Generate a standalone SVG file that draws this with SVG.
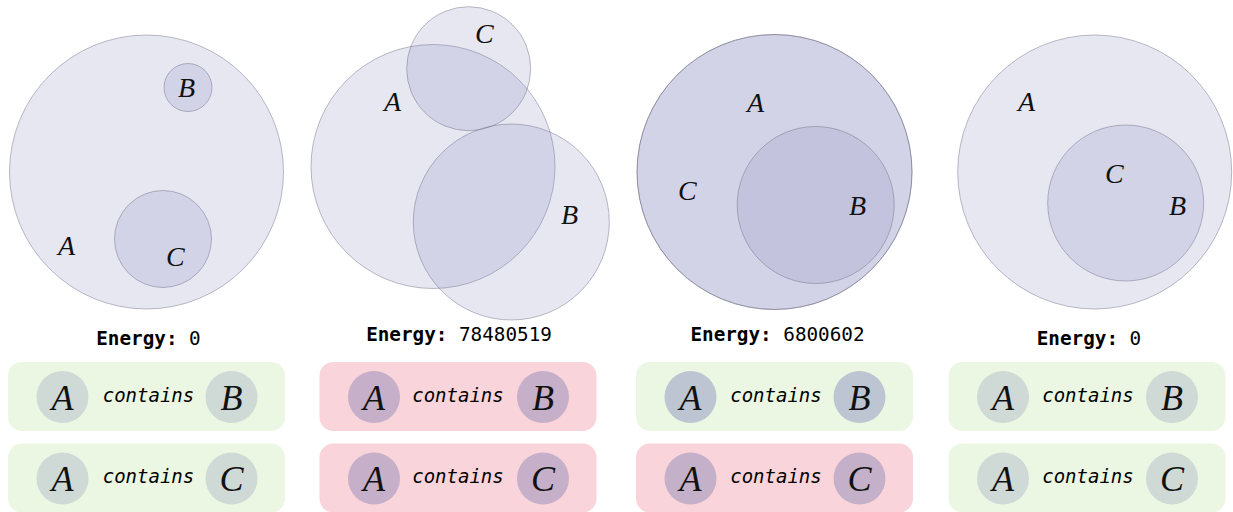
<svg xmlns="http://www.w3.org/2000/svg" width="1233" height="512" viewBox="0 0 1233 512">
<style>
.sh{fill:#8787be;fill-opacity:0.2;stroke:#6a6a80;stroke-opacity:0.45;stroke-width:1}
.lbl{font-family:"Liberation Serif",serif;font-style:italic;font-size:28px;fill:#111}
.big{font-family:"Liberation Serif",serif;font-style:italic;font-size:36px;fill:#111;text-anchor:middle}
.en{font-family:"DejaVu Sans Mono",monospace;font-size:19.3px;fill:#000;text-anchor:middle}
.enb{font-weight:bold}
.con{font-family:"DejaVu Sans Mono",monospace;font-style:italic;font-size:19px;fill:#000;text-anchor:middle}
.ok{fill:#ebf7e3}
.bad{fill:#f9d4da}
.cok{fill:#cfd9d6}
.cbad{fill:#c6afc8}
.cok3{fill:#bdc5d3}
.cbad3{fill:#c4b0c8}
</style>
<g id="panel1">
<circle class="sh" cx="146.5" cy="172" r="137"/>
<circle class="sh" cx="188" cy="87.5" r="24"/>
<circle class="sh" cx="163" cy="239" r="48.5"/>
<text class="lbl" x="58" y="255">A</text>
<text class="lbl" x="178" y="97">B</text>
<text class="lbl" x="166" y="266">C</text>
<text class="en" x="148.5" y="345"><tspan class="enb">Energy:</tspan> 0</text>
</g>
<g id="panel2">
<circle class="sh" cx="433" cy="166.5" r="122"/>
<circle class="sh" cx="468.7" cy="68.7" r="62"/>
<circle class="sh" cx="511.3" cy="222" r="98"/>
<text class="lbl" x="384" y="111">A</text>
<text class="lbl" x="561" y="224">B</text>
<text class="lbl" x="475" y="43">C</text>
<text class="en" x="459" y="341"><tspan class="enb">Energy:</tspan> 78480519</text>
</g>
<g id="panel3">
<circle class="sh" cx="774.5" cy="172" r="137.5"/>
<circle class="sh" cx="774.5" cy="172" r="137.5"/>
<circle class="sh" cx="815.7" cy="205" r="78.5"/>
<text class="lbl" x="747" y="112">A</text>
<text class="lbl" x="849" y="215">B</text>
<text class="lbl" x="678" y="200">C</text>
<text class="en" x="777.5" y="341"><tspan class="enb">Energy:</tspan> 6800602</text>
</g>
<g id="panel4">
<circle class="sh" cx="1094.7" cy="172" r="137"/>
<circle class="sh" cx="1125.7" cy="203" r="78"/>
<text class="lbl" x="1018" y="111">A</text>
<text class="lbl" x="1169" y="215">B</text>
<text class="lbl" x="1105" y="183">C</text>
<text class="en" x="1089" y="345"><tspan class="enb">Energy:</tspan> 0</text>
</g>
<g id="constraints1">
<rect class="ok" x="8" y="362" width="277" height="69" rx="14"/>
<circle class="cok" cx="62.5" cy="397" r="26"/>
<circle class="cok" cx="231.5" cy="397" r="26"/>
<text class="big" x="62.5" y="409.5">A</text>
<text class="con" x="148.5" y="401.5">contains</text>
<text class="big" x="231.5" y="409.5">B</text>
<rect class="ok" x="8" y="443.5" width="277" height="69" rx="14"/>
<circle class="cok" cx="62.5" cy="478.5" r="26"/>
<circle class="cok" cx="231.5" cy="478.5" r="26"/>
<text class="big" x="62.5" y="491">A</text>
<text class="con" x="148.5" y="483">contains</text>
<text class="big" x="231.5" y="491">C</text>
</g>
<g id="constraints2">
<rect class="bad" x="319.5" y="362" width="277" height="69" rx="14"/>
<circle class="cbad" cx="374" cy="397" r="26"/>
<circle class="cbad" cx="543" cy="397" r="26"/>
<text class="big" x="374" y="409.5">A</text>
<text class="con" x="458" y="401.5">contains</text>
<text class="big" x="543" y="409.5">B</text>
<rect class="bad" x="319.5" y="443.5" width="277" height="69" rx="14"/>
<circle class="cbad" cx="374" cy="478.5" r="26"/>
<circle class="cbad" cx="543" cy="478.5" r="26"/>
<text class="big" x="374" y="491">A</text>
<text class="con" x="458" y="483">contains</text>
<text class="big" x="543" y="491">C</text>
</g>
<g id="constraints3">
<rect class="ok" x="636" y="362" width="277" height="69" rx="14"/>
<circle class="cok3" cx="690.5" cy="397" r="26"/>
<circle class="cok3" cx="859.5" cy="397" r="26"/>
<text class="big" x="690.5" y="409.5">A</text>
<text class="con" x="776" y="401.5">contains</text>
<text class="big" x="859.5" y="409.5">B</text>
<rect class="bad" x="636" y="443.5" width="277" height="69" rx="14"/>
<circle class="cbad3" cx="690.5" cy="478.5" r="26"/>
<circle class="cbad3" cx="859.5" cy="478.5" r="26"/>
<text class="big" x="690.5" y="491">A</text>
<text class="con" x="776" y="483">contains</text>
<text class="big" x="859.5" y="491">C</text>
</g>
<g id="constraints4">
<rect class="ok" x="948.5" y="362" width="277" height="69" rx="14"/>
<circle class="cok" cx="1003" cy="397" r="26"/>
<circle class="cok" cx="1172" cy="397" r="26"/>
<text class="big" x="1003" y="409.5">A</text>
<text class="con" x="1088" y="401.5">contains</text>
<text class="big" x="1172" y="409.5">B</text>
<rect class="ok" x="948.5" y="443.5" width="277" height="69" rx="14"/>
<circle class="cok" cx="1003" cy="478.5" r="26"/>
<circle class="cok" cx="1172" cy="478.5" r="26"/>
<text class="big" x="1003" y="491">A</text>
<text class="con" x="1088" y="483">contains</text>
<text class="big" x="1172" y="491">C</text>
</g>
<g id="connectors"/>
</svg>
